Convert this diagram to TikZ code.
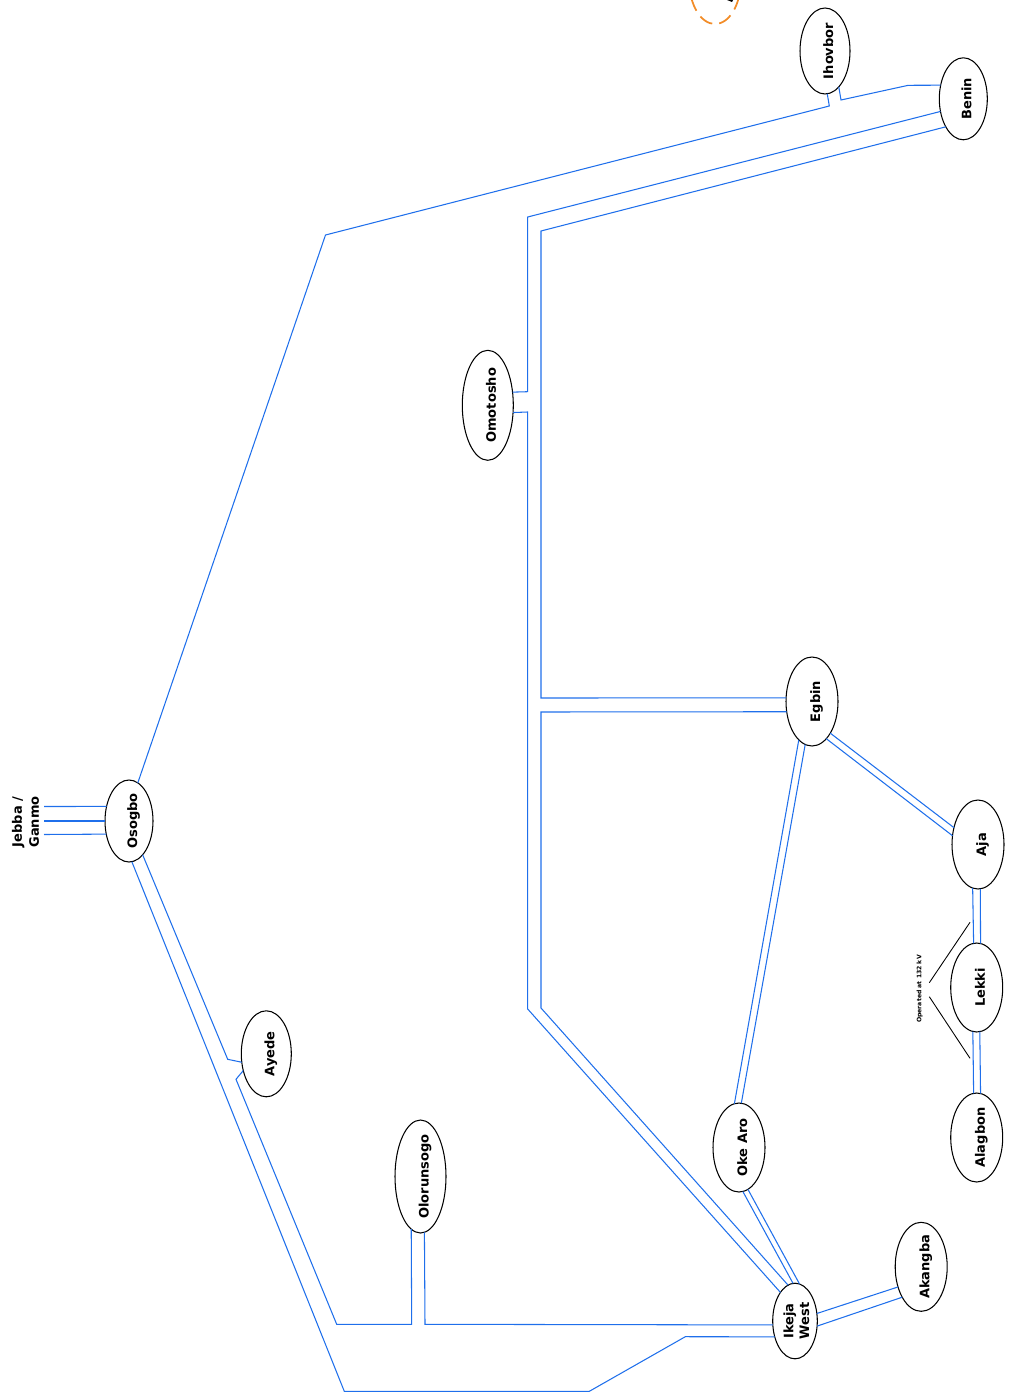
\documentclass[tikz,border=0pt]{standalone}
\usepackage{fontspec}
\setmainfont{DejaVu Sans}
\usetikzlibrary{shapes.geometric}
\newcommand{\vlabel}[2][5.6pt]{\makebox[0pt]{\kern#1\raisebox{0pt}[0pt][0pt]{\raisebox{-0.5\height}{\rotatebox{90}{\begin{tabular}{@{}c@{}}#2\end{tabular}}}}}}
\tikzset{
 bus/.style 2 args={ellipse,draw=black,fill=white,line width=0.6pt,inner sep=0pt,outer sep=0pt,minimum width=#1*0.02cm,minimum height=#2*0.02cm,font=\fontsize{7.4pt}{9pt}\selectfont\bfseries},
 tag/.style={inner sep=0pt,font=\fontsize{7.4pt}{9.6pt}\selectfont\bfseries},
 line/.style={draw=linkblue,line width=0.6pt},
 note/.style={draw=black,line width=0.5pt}
}
\definecolor{linkblue}{HTML}{1F6FEB}
\definecolor{ringorange}{HTML}{F28C28}
\begin{document}
\begin{tikzpicture}[x=0.02cm,y=-0.02cm]
 \useasboundingbox (0,0) rectangle (1012,1398);
 \node[bus={48}{82}] (osogbo) at (129,821) {\vlabel{Osogbo}};
 \node[bus={50}{86}] (ayede) at (266.3,1053.8) {\vlabel{Ayede}};
 \node[bus={51}{113}] (olorunsogo) at (420.5,1176.5) {\vlabel{Olorunsogo}};
 \node[bus={51}{110}] (omotosho) at (487.8,405.3) {\vlabel{Omotosho}};
 \node[bus={52}{89}] (egbin) at (812,701.5) {\vlabel{Egbin}};
 \node[bus={52}{89}] (aja) at (978,844.5) {\vlabel{Aja}};
 \node[bus={52}{89}] (lekki) at (976.7,987.5) {\vlabel{Lekki}};
 \node[bus={52}{89}] (alagbon) at (976.7,1137.5) {\vlabel{Alagbon}};
 \node[bus={52}{89}] (okearo) at (739,1147.5) {\vlabel{Oke Aro}};
 \node[bus={44.6}{75.6}] (ikeja) at (795,1321) {\vlabel[3.4pt]{Ikeja\\West}};
 \node[bus={52}{89}] (akangba) at (921.2,1266.8) {\vlabel{Akangba}};
 \node[bus={50}{86}] (ihovbor) at (825,51) {\vlabel{Ihovbor}};
 \node[bus={48}{82}] (benin) at (963.3,98.8) {\vlabel{Benin}};
 \node[tag] (jebba) at (27,822) {\vlabel[0pt]{Jebba /\\Ganmo}};
 \node[inner sep=0pt,font=\fontsize{3.5pt}{4pt}\selectfont\bfseries] (oplabel) at (920,989) {\vlabel[0pt]{Operated at 132 kV}};
 \node[ellipse,draw=ringorange,line width=1pt,dash pattern=on 8pt off 4pt,inner sep=0pt,minimum width=1.03cm,minimum height=1.72cm] (ring) at (715,-19) {};
 \fill (727,0) -- (733,0) -- (732,2) -- cycle;
 \coordinate (jg1) at (44,806.5);
 \coordinate (jg2) at (44,821);
 \coordinate (jg3) at (44,834.5);
 \coordinate (op1) at (970,922.3);
 \coordinate (op2) at (929.3,982.7);
 \coordinate (op3) at (929.3,996.7);
 \coordinate (op4) at (970,1058.3);
 \draw[line] (jg1)--(osogbo.147);
 \draw[line] (jg2)--(osogbo.180);
 \draw[line] (jg3)--(osogbo.210.7);
 \draw[line] (osogbo.77.9)--(325.5,235)--(829.3,106)--(ihovbor.273);
 \draw[line] (ihovbor.291.1)--(841,100)--(908.3,85.3)--(benin.149.2);
 \draw[line] (benin.209.5)--(527.7,217)--(527.7,391.7)--(omotosho.28.8);
 \draw[line] (benin.238.7)--(541,231)--(541,698)--(egbin.172.3);
 \draw[line] (omotosho.344.9)--(527.7,412)--(527.7,1009)--(ikeja.117.1);
 \draw[line] (egbin.202.5)--(541,712)--(541,1008)--(ikeja.101.7);
 \draw[line] (egbin.251.7)--(okearo.96.2);
 \draw[line] (egbin.261.6)--(okearo.87.8);
 \draw[line] (egbin.300.5)--(aja.145.8);
 \draw[line] (egbin.291.8)--(aja.161.4);
 \draw[line] (aja.263.9)--(lekki.94.4);
 \draw[line] (aja.273)--(lekki.85.3);
 \draw[line] (lekki.265.6)--(alagbon.94.4);
 \draw[line] (lekki.274.7)--(alagbon.85.3);
 \draw[line] (okearo.275.6)--(ikeja.93.7);
 \draw[line] (okearo.282.3)--(ikeja.83.4);
 \draw[line] (ikeja.19.5)--(akangba.221);
 \draw[line] (ikeja.347.8)--(akangba.238.5);
 \draw[line] (ikeja.190.2)--(425,1324.3)--(olorunsogo.274.6);
 \draw[line] (olorunsogo.260.6)--(411.7,1324.3)--(336.7,1324.3)--(236,1079.3)--(ayede.216.8);
 \draw[line] (osogbo.292.2)--(227.7,1059.3)--(ayede.199);
 \draw[line] (osogbo.274.6)--(344.3,1391.3)--(589.3,1391.3)--(685.3,1336.7)--(ikeja.218.1);
 \draw[note] (op1)--(op2);
 \draw[note] (op3)--(op4);
\end{tikzpicture}
\end{document}
